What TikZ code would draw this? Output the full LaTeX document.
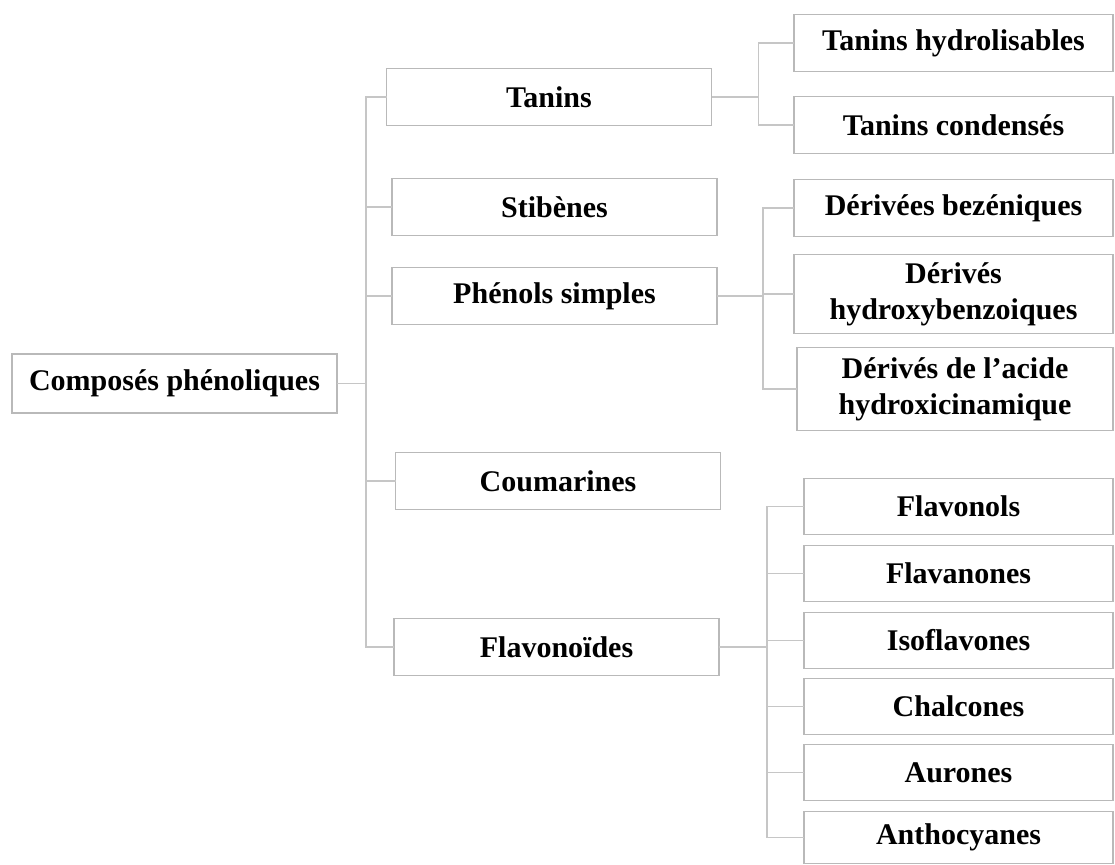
\documentclass[tikz,border=0pt]{standalone}
\usepackage{fontspec}
\setmainfont{Liberation Serif}
\usetikzlibrary{positioning}

\begin{document}
\begin{tikzpicture}[x=1pt, y=-1pt, node distance=25pt, line width=1.2pt,
                    draw=gray!45]
  \tikzstyle{every node}=[font=\fontsize{30}{36}\selectfont\bfseries, text=black]
  \tikzstyle{groupe}=[rectangle, draw=gray!55, line width=1.2pt, inner sep=0pt,
                      outer sep=0pt, align=center, minimum width=325pt,
                      minimum height=57pt]
  \tikzstyle{sousgroupe}=[groupe, minimum width=319pt]
  \tikzstyle{flavo}=[groupe, minimum width=309pt, minimum height=56pt]

  \useasboundingbox (0,0) rectangle (1115,864);

  \node[groupe] (comp) at (174.5,383.5) [minimum height=59pt]    {Composés phénoliques};

  \node[groupe] (tan)  at (549,97)                               {Tanins};
  \node[groupe] (stib) [below =53pt of tan, xshift=5.5pt]        {Stibènes};
  \node[groupe] (phen) [below =32pt of stib]                     {Phénols simples};
  \node[groupe] (coum) [below =128pt of phen, xshift=3.5pt]      {Coumarines};
  \node[groupe] (flav) [below =109pt of coum, xshift=-1.5pt]     {Flavonoïdes};

  \node[sousgroupe] (thyd)  at (953.5,43)                        {Tanins hydrolisables};
  \node[sousgroupe] (tcond) [below =25pt of thyd]                {Tanins condensés};
  \node[sousgroupe] (dbenz) [below =26pt of tcond]               {Dérivées bezéniques};
  \node[sousgroupe] (dhbz)  [below =18pt of dbenz, minimum height=79pt]
                                                                 {Dérivés\\hydroxybenzoiques};
  \node[sousgroupe] (dcin)  [below =14pt of dhbz, xshift=1.5pt, minimum width=316pt,
                             minimum height=83pt]                {Dérivés de l’acide\\hydroxicinamique};

  \node[flavo] (flvl) [below =48pt of dcin, xshift=3.5pt]        {Flavonols};
  \node[flavo] (flvn) [below =11pt of flvl]                      {Flavanones};
  \node[flavo] (isof) [below =11pt of flvn]                      {Isoflavones};
  \node[flavo] (chal) [below =10pt of isof]                      {Chalcones};
  \node[flavo] (aur)  [below =10pt of chal]                      {Aurones};
  \node[flavo] (anth) [below =11pt of aur, minimum height=52pt]  {Anthocyanes};

  \draw (comp.east) -- ++(29,0) |- (tan.west)
        (comp.east) -- ++(29,0) |- (stib.west)
        (comp.east) -- ++(29,0) |- (phen.west)
        (comp.east) -- ++(29,0) |- (coum.west)
        (comp.east) -- ++(29,0) |- (flav.west);

  \draw (tan.east)  -- ++(47,0) |- (thyd.west)
        (tan.east)  -- ++(47,0) |- (tcond.west);

  \draw (phen.east) -- ++(46,0) |- (dbenz.west)
        (phen.east) -- ++(46,0) |- (dhbz.west)
        (phen.east) -- ++(46,0) |- (dcin.west);

  \draw (flav.east) -- ++(48,0) |- (flvl.west)
        (flav.east) -- ++(48,0) |- (flvn.west)
        (flav.east) -- ++(48,0) |- (isof.west)
        (flav.east) -- ++(48,0) |- (chal.west)
        (flav.east) -- ++(48,0) |- (aur.west)
        (flav.east) -- ++(48,0) |- (anth.west);
\end{tikzpicture}
\end{document}
